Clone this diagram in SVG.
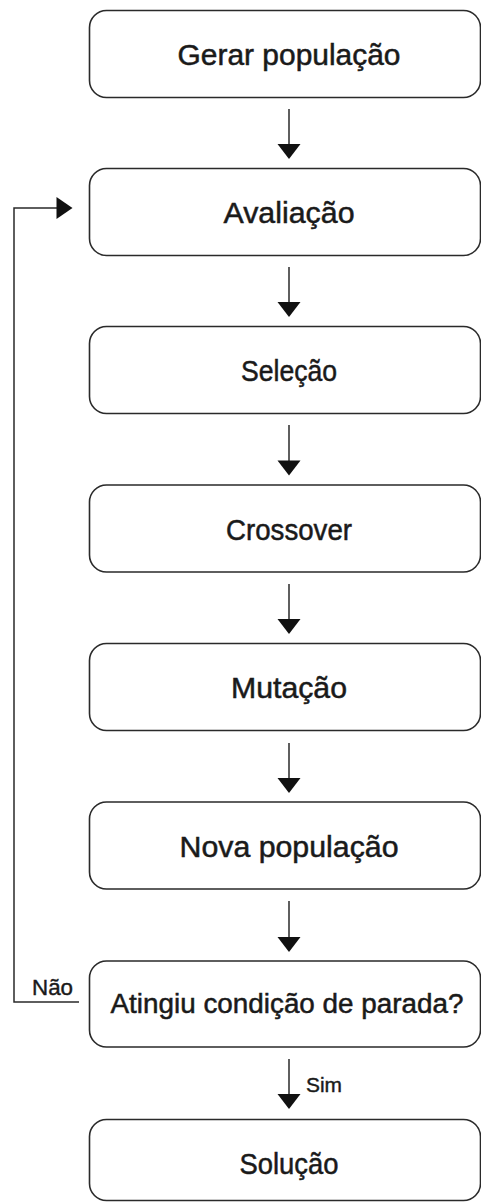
<svg xmlns="http://www.w3.org/2000/svg" width="481" height="1202" viewBox="0 0 481 1202">
<style>
.box{fill:#fff;stroke:#2a2a2a;stroke-width:1.6}
.lbl{font-family:"Liberation Sans",Arial,sans-serif;font-size:29px;fill:#1a1a1a;stroke:#1a1a1a;stroke-width:0.5;text-anchor:middle}
.small{font-family:"Liberation Sans",Arial,sans-serif;font-size:22px;fill:#1a1a1a;stroke:#1a1a1a;stroke-width:0.4}
.ln{fill:none;stroke:#2a2a2a;stroke-width:1.5}
.hd{fill:#111}
</style>
<rect width="481" height="1202" fill="#fff"/>
<g id="n1"><rect class="box" x="89.5" y="10.5" width="391" height="87" rx="17"/><text class="lbl" x="289" y="65" textLength="223" lengthAdjust="spacingAndGlyphs">Gerar população</text></g>
<g id="n2"><rect class="box" x="89.5" y="168.5" width="391" height="87" rx="17"/><text class="lbl" x="289" y="223" textLength="131" lengthAdjust="spacingAndGlyphs">Avaliação</text></g>
<g id="n3"><rect class="box" x="89.5" y="326.5" width="391" height="87" rx="17"/><text class="lbl" x="289" y="381" textLength="96" lengthAdjust="spacingAndGlyphs">Seleção</text></g>
<g id="n4"><rect class="box" x="89.5" y="485" width="391" height="87" rx="17"/><text class="lbl" x="289" y="539.5" textLength="126" lengthAdjust="spacingAndGlyphs">Crossover</text></g>
<g id="n5"><rect class="box" x="89.5" y="643.5" width="391" height="87" rx="17"/><text class="lbl" x="289" y="698" textLength="116" lengthAdjust="spacingAndGlyphs">Mutação</text></g>
<g id="n6"><rect class="box" x="89.5" y="802" width="391" height="87" rx="17"/><text class="lbl" x="289" y="856.5" textLength="219" lengthAdjust="spacingAndGlyphs">Nova população</text></g>
<g id="n7"><rect class="box" x="89.5" y="961" width="391" height="86" rx="17"/><text class="lbl" x="287" y="1013" style="font-size:27px" textLength="353" lengthAdjust="spacingAndGlyphs">Atingiu condição de parada?</text></g>
<g id="n8"><rect class="box" x="89.5" y="1119.5" width="391" height="81" rx="17"/><text class="lbl" x="289" y="1174" textLength="99" lengthAdjust="spacingAndGlyphs">Solução</text></g>
<g id="connectors">
<line class="ln" x1="289" y1="109" x2="289" y2="146"/><polygon class="hd" points="277.5,144 300.5,144 289,159"/>
<line class="ln" x1="289" y1="267" x2="289" y2="304"/><polygon class="hd" points="277.5,302 300.5,302 289,317"/>
<line class="ln" x1="289" y1="425" x2="289" y2="462"/><polygon class="hd" points="277.5,460.5 300.5,460.5 289,475.5"/>
<line class="ln" x1="289" y1="584" x2="289" y2="621"/><polygon class="hd" points="277.5,619 300.5,619 289,634"/>
<line class="ln" x1="289" y1="743" x2="289" y2="780"/><polygon class="hd" points="277.5,778 300.5,778 289,793"/>
<line class="ln" x1="289" y1="901" x2="289" y2="938"/><polygon class="hd" points="277.5,937 300.5,937 289,952"/>
<line class="ln" x1="289" y1="1059" x2="289" y2="1096"/><polygon class="hd" points="277.5,1094 300.5,1094 289,1109"/>
<path class="ln" d="M79,1002 H14 V208 H58"/><polygon class="hd" points="56.5,197 56.5,219 72.5,208"/>
<text class="small" x="32" y="995" textLength="41" lengthAdjust="spacingAndGlyphs">Não</text>
<text class="small" x="306" y="1092" style="font-size:20px" textLength="36" lengthAdjust="spacingAndGlyphs">Sim</text>
</g>
</svg>
